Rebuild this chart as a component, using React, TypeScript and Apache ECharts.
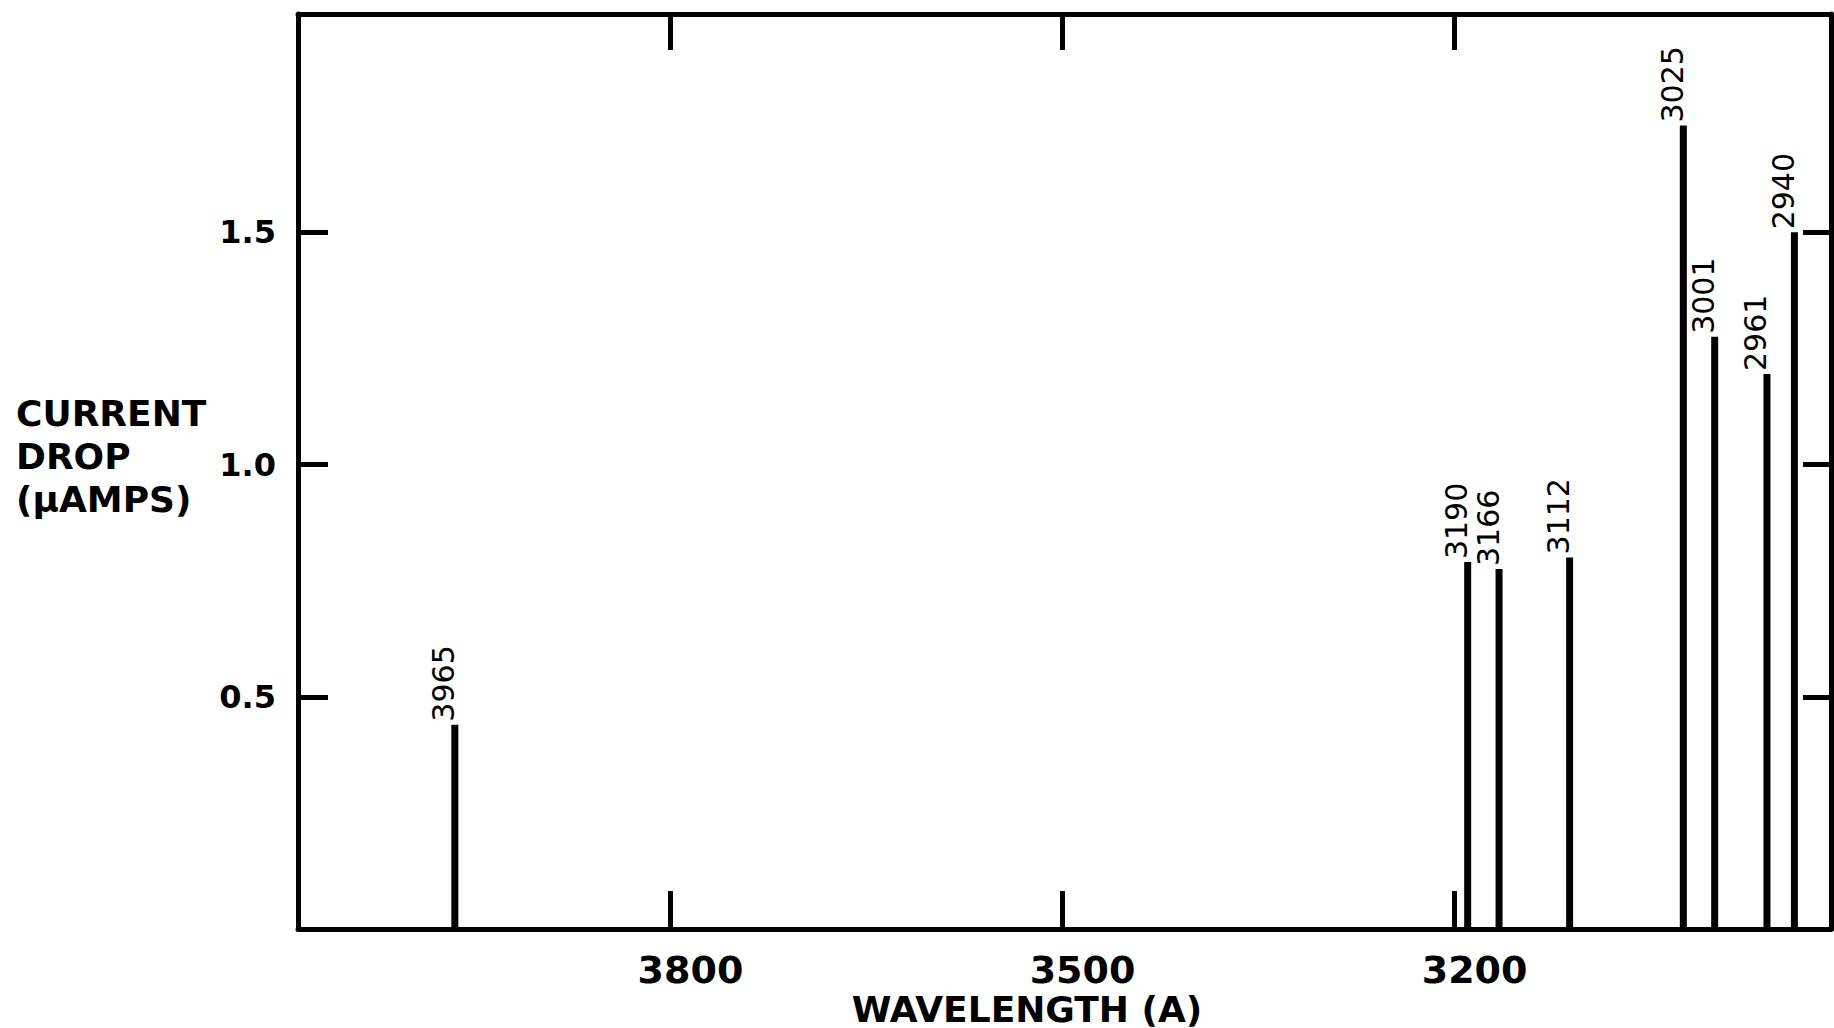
import React, { useEffect, useRef } from "react";
import * as echarts from "echarts";

// Data
const wavelengths = [3965, 3190, 3166, 3112, 3025, 3001, 2961, 2940];
const currentDrop = [0.44, 0.79, 0.775, 0.8, 1.73, 1.275, 1.195, 1.5];
const xTickValues = [3200, 3500, 3800];
const yTickValues = [0.5, 1.0, 1.5];
const xMin = 2912;
const xMax = 4085;
const yMin = 0;
const yMax = 1.97;
const yTitleLines = ["CURRENT", "DROP", "(\u03bcAMPS)"];
const xTitle = "WAVELENGTH (A)";

const FONT = "DejaVu Sans";

export default function App() {
  const ref = useRef<HTMLDivElement>(null);

  useEffect(() => {
    document.body.style.margin = "0";
    document.body.style.overflow = "hidden";
    if (!ref.current) return;
    const chart = echarts.init(ref.current, null, { renderer: "svg" });

    const axisLine = { show: true, onZero: false, lineStyle: { color: "#000", width: 5 } };

    const option: any = {
      animation: false,
      backgroundColor: "#fff",
      grid: { left: 298, top: 14, right: 3, bottom: 99, containLabel: false },
      xAxis: [
        {
          type: "value",
          position: "bottom",
          inverse: true,
          min: xMin,
          max: xMax,
          axisLine,
          splitLine: { show: false },
          axisTick: {
            show: true,
            inside: true,
            length: 38,
            customValues: xTickValues,
            lineStyle: { color: "#000", width: 5 },
          },
          axisLabel: {
            show: true,
            customValues: xTickValues,
            margin: 22,
            fontFamily: FONT,
            fontWeight: "bold",
            fontSize: 38,
            lineHeight: 38,
            color: "#000",
            padding: [0, 0, 0, 40],
            formatter: (v: number) => String(v),
          },
        },
        {
          type: "value",
          position: "top",
          inverse: true,
          min: xMin,
          max: xMax,
          axisLine,
          splitLine: { show: false },
          axisTick: {
            show: true,
            inside: true,
            length: 36,
            customValues: xTickValues,
            lineStyle: { color: "#000", width: 5 },
          },
          axisLabel: { show: false },
        },
      ],
      yAxis: [
        {
          type: "value",
          position: "left",
          min: yMin,
          max: yMax,
          axisLine,
          splitLine: { show: false },
          axisTick: {
            show: true,
            inside: true,
            length: 30,
            customValues: yTickValues,
            lineStyle: { color: "#000", width: 5 },
          },
          axisLabel: {
            show: true,
            customValues: yTickValues,
            margin: 22,
            fontFamily: FONT,
            fontWeight: "bold",
            fontSize: 32,
            color: "#000",
            formatter: (v: number) => v.toFixed(1),
          },
        },
        {
          type: "value",
          position: "right",
          min: yMin,
          max: yMax,
          axisLine,
          splitLine: { show: false },
          axisTick: {
            show: true,
            inside: true,
            length: 28,
            customValues: yTickValues,
            lineStyle: { color: "#000", width: 5 },
          },
          axisLabel: { show: false },
        },
      ],
      series: [
        {
          type: "bar",
          xAxisIndex: 0,
          yAxisIndex: 0,
          barWidth: 7,
          data: wavelengths.map((w, i) => [w, currentDrop[i]]),
          itemStyle: { color: "#000" },
          label: {
            show: true,
            position: "top",
            rotate: 90,
            align: "left",
            verticalAlign: "middle",
            distance: 3,
            offset: [0, -11],
            fontFamily: FONT,
            fontSize: 30,
            color: "#000",
            formatter: (p: any) => String(p.value[0]),
          },
        },
      ],
      graphic: [
        {
          type: "text",
          left: 16,
          top: 392,
          style: {
            text: yTitleLines.join("\n"),
            fontFamily: FONT,
            fontWeight: "bold",
            fontSize: 36,
            lineHeight: 43,
            fill: "#000",
            textAlign: "left",
          },
        },
        {
          type: "text",
          x: 1027,
          y: 1009,
          style: {
            text: xTitle,
            fontFamily: FONT,
            fontWeight: "bold",
            fontSize: 36,
            lineHeight: 36,
            fill: "#000",
            textAlign: "center",
            textVerticalAlign: "middle",
          },
        },
      ],
    };

    chart.setOption(option);
    return () => chart.dispose();
  }, []);

  return <div ref={ref} style={{ width: 1834, height: 1028 }} />;
}
